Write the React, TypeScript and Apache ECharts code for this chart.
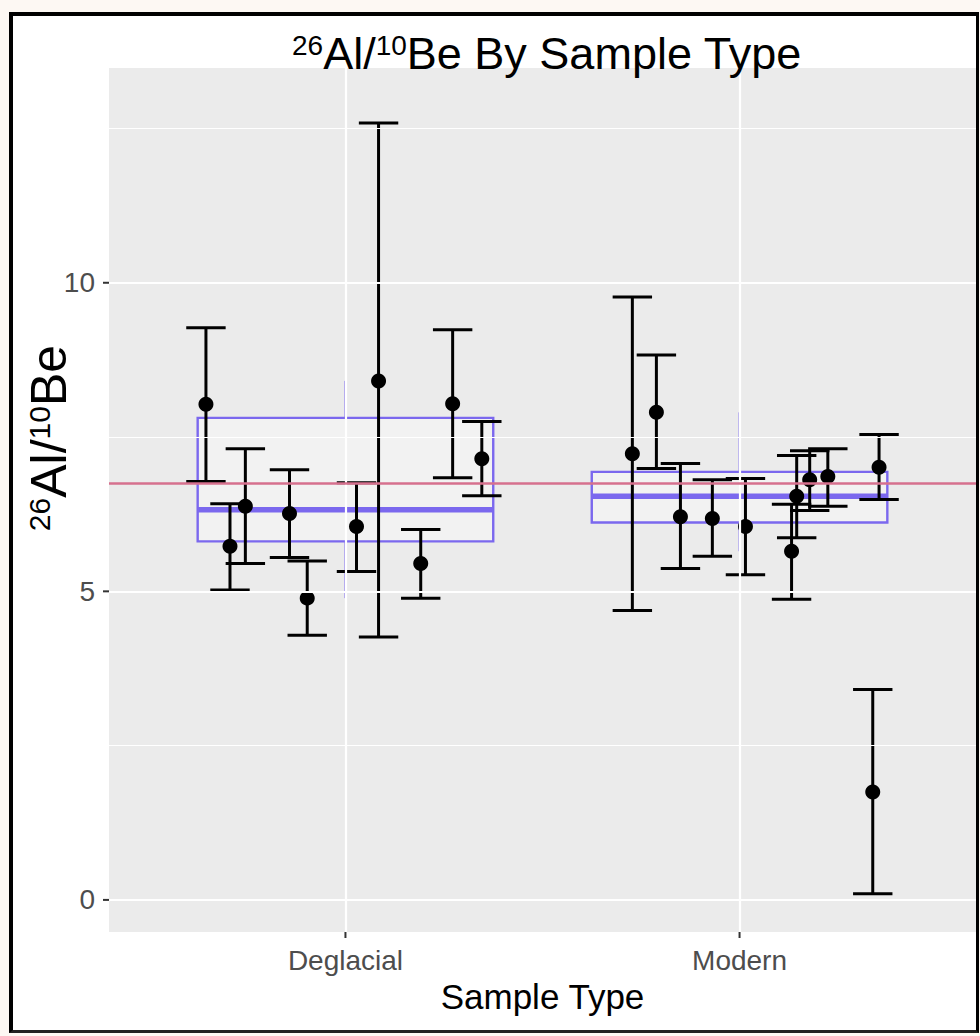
import React, { useEffect, useRef } from "react";
import * as echarts from "echarts";

const categories = ["Deglacial", "Modern"];

const deglacialJitter = [-0.354, -0.293, -0.254, -0.142, -0.097, 0.028, 0.084, 0.191, 0.272, 0.346];
const deglacialRatio = [8.03, 5.73, 6.38, 6.26, 4.89, 6.05, 8.41, 5.45, 8.04, 7.15];
const deglacialLow = [6.78, 5.02, 5.45, 5.55, 4.29, 5.32, 4.26, 4.89, 6.84, 6.55];
const deglacialHigh = [9.27, 6.42, 7.31, 6.97, 5.49, 6.76, 12.59, 6.0, 9.24, 7.75];

const modernJitter = [-0.272, -0.211, -0.15, -0.069, 0.015, 0.132, 0.145, 0.178, 0.224, 0.354, 0.338];
const modernRatio = [7.23, 7.9, 6.21, 6.18, 6.05, 5.65, 6.54, 6.81, 6.86, 7.01, 1.75];
const modernLow = [4.69, 6.99, 5.37, 5.57, 5.27, 4.87, 5.87, 6.31, 6.38, 6.49, 0.1];
const modernHigh = [9.77, 8.83, 7.07, 6.81, 6.83, 6.41, 7.2, 7.28, 7.31, 7.54, 3.41];

const referenceRatio = 6.75;
const yTicks = [0, 5, 10];
const yMinorGrid = [2.5, 7.5, 12.5];
const xMin = -0.6;
const xMax = 1.6;
const yMin = -0.52;
const yMax = 13.48;

const FONT = "'Liberation Sans', Arial, Helvetica, sans-serif";
const BOX = "#7B68EE";
const TICK_LEN = 6;

function quantile(sorted: number[], p: number) {
  const h = (sorted.length - 1) * p;
  const lo = Math.floor(h);
  const hi = Math.ceil(h);
  return sorted[lo] + (h - lo) * (sorted[hi] - sorted[lo]);
}

function boxStats(values: number[]) {
  const s = [...values].sort((a, b) => a - b);
  const q1 = quantile(s, 0.25);
  const med = quantile(s, 0.5);
  const q3 = quantile(s, 0.75);
  const iqr = q3 - q1;
  const lo = Math.min(...s.filter((v) => v >= q1 - 1.5 * iqr));
  const hi = Math.max(...s.filter((v) => v <= q3 + 1.5 * iqr));
  return [lo, q1, med, q3, hi];
}

export default function App() {
  const ref = useRef<HTMLDivElement>(null);

  useEffect(() => {
    if (!ref.current) return;
    const chart = echarts.init(ref.current, undefined, { renderer: "svg" });

    const groups = [
      { jitter: deglacialJitter, ratio: deglacialRatio, low: deglacialLow, high: deglacialHigh },
      { jitter: modernJitter, ratio: modernRatio, low: modernLow, high: modernHigh },
    ];

    const boxData = groups.map((g, i) => [i, ...boxStats(g.ratio)]);
    const pointData: number[][] = [];
    const errData: number[][] = [];
    groups.forEach((g, i) => {
      g.ratio.forEach((v, j) => {
        pointData.push([i + g.jitter[j], v]);
        errData.push([i + g.jitter[j], g.low[j], g.high[j]]);
      });
    });

    const tickLine = { stroke: "#333333", lineWidth: 2 };

    const option: any = {
      animation: false,
      backgroundColor: "transparent",
      title: {
        left: 287,
        top: 26,
        text: "{sup|26}{main|Al/}{sup|10}{main|Be By Sample Type}",
        textStyle: {
          fontWeight: "normal",
          rich: {
            main: { fontSize: 45, lineHeight: 45, fontFamily: FONT, fontWeight: "normal", color: "#000", verticalAlign: "middle" },
            sup: { fontSize: 28, lineHeight: 28, fontFamily: FONT, fontWeight: "normal", color: "#000", verticalAlign: "top" },
          },
        },
      },
      grid: {
        left: 109,
        right: 4,
        top: 68,
        bottom: 104,
        show: true,
        backgroundColor: "#EBEBEB",
        borderWidth: 0,
      },
      xAxis: {
        type: "value",
        min: xMin,
        max: xMax,
        name: "Sample Type",
        nameLocation: "middle",
        nameGap: 46,
        nameTextStyle: { fontSize: 35, fontFamily: FONT, color: "#000" },
        axisLine: { show: false },
        splitLine: { show: false },
        axisTick: { show: false },
        axisLabel: {
          customValues: [0, 1],
          formatter: (v: number) => categories[Math.round(v)] ?? "",
          fontSize: 28,
          fontFamily: FONT,
          color: "#4D4D4D",
          margin: 14,
        },
      },
      yAxis: {
        type: "value",
        min: yMin,
        max: yMax,
        axisLine: { show: false },
        splitLine: { show: false },
        axisTick: { show: false },
        axisLabel: {
          customValues: yTicks,
          fontSize: 28,
          fontFamily: FONT,
          color: "#4D4D4D",
          margin: 14,
        },
      },
      graphic: [
        {
          type: "text",
          x: 49,
          y: 438,
          rotation: Math.PI / 2,
          style: {
            text: "{sup|26}{main|Al/}{sup|10}{main|Be}",
            align: "center",
            verticalAlign: "middle",
            textAlign: "center",
            textVerticalAlign: "middle",
            rich: {
              main: { fontSize: 50, lineHeight: 50, fontFamily: FONT, fill: "#000", verticalAlign: "middle" },
              sup: { fontSize: 30, lineHeight: 30, fontFamily: FONT, fill: "#000", verticalAlign: "top" },
            },
          },
        },
      ],
      series: [
        {
          type: "line",
          data: [],
          z: 1,
          silent: true,
          markLine: {
            silent: true,
            symbol: ["none", "none"],
            label: { show: false },
            emphasis: { disabled: true },
            lineStyle: { color: "#FFFFFF", width: 1.1, type: "solid" },
            data: yMinorGrid.map((v) => ({ yAxis: v })),
          },
        },
        {
          type: "line",
          data: [],
          z: 1,
          silent: true,
          markLine: {
            silent: true,
            symbol: ["none", "none"],
            label: { show: false },
            emphasis: { disabled: true },
            lineStyle: { color: "#FFFFFF", width: 2.2, type: "solid" },
            data: [...yTicks.map((v) => ({ yAxis: v })), ...categories.map((_, i) => ({ xAxis: i }))],
          },
        },
        {
          // y-axis tick marks (outside the panel)
          type: "custom",
          z: 1,
          silent: true,
          clip: false,
          data: yTicks.map((v) => [xMin, v]),
          renderItem: (params: any, api: any) => {
            const [x0, y] = api.coord([xMin, api.value(1)]);
            return { type: "line", shape: { x1: x0 - TICK_LEN, y1: y, x2: x0, y2: y }, style: tickLine };
          },
        },
        {
          // x-axis tick marks (outside the panel)
          type: "custom",
          z: 1,
          silent: true,
          clip: false,
          data: categories.map((_, i) => [i, yMin]),
          renderItem: (params: any, api: any) => {
            const [x, y0] = api.coord([api.value(0), yMin]);
            return { type: "line", shape: { x1: x, y1: y0, x2: x, y2: y0 + TICK_LEN }, style: tickLine };
          },
        },
        {
          type: "custom",
          z: 2,
          silent: true,
          data: boxData,
          encode: { x: 0, y: [1, 2, 3, 4, 5] },
          renderItem: (params: any, api: any) => {
            const x = api.value(0);
            const w = api.size([0.75, 0])[0];
            const cx = api.coord([x, api.value(1)])[0];
            const yLo = api.coord([x, api.value(1)])[1];
            const yQ1 = api.coord([x, api.value(2)])[1];
            const yMed = api.coord([x, api.value(3)])[1];
            const yQ3 = api.coord([x, api.value(4)])[1];
            const yHi = api.coord([x, api.value(5)])[1];
            return {
              type: "group",
              children: [
                { type: "line", shape: { x1: cx, y1: yQ3, x2: cx, y2: yHi }, style: { stroke: BOX, lineWidth: 2 } },
                { type: "line", shape: { x1: cx, y1: yQ1, x2: cx, y2: yLo }, style: { stroke: BOX, lineWidth: 2 } },
                {
                  type: "rect",
                  shape: { x: cx - w / 2, y: yQ3, width: w, height: yQ1 - yQ3 },
                  style: { fill: "rgba(255,255,255,0.35)", stroke: BOX, lineWidth: 2.4 },
                },
                {
                  type: "line",
                  shape: { x1: cx - w / 2, y1: yMed, x2: cx + w / 2, y2: yMed },
                  style: { stroke: BOX, lineWidth: 5.5 },
                },
              ],
            };
          },
        },
        {
          type: "custom",
          z: 3,
          silent: true,
          data: errData,
          encode: { x: 0, y: [1, 2] },
          renderItem: (params: any, api: any) => {
            const x = api.value(0);
            const cw = api.size([0.1, 0])[0];
            const [cx, yLow] = api.coord([x, api.value(1)]);
            const yHigh = api.coord([x, api.value(2)])[1];
            const st = { stroke: "#000", lineWidth: 3 };
            return {
              type: "group",
              children: [
                { type: "line", shape: { x1: cx, y1: yLow, x2: cx, y2: yHigh }, style: st },
                { type: "line", shape: { x1: cx - cw / 2, y1: yLow, x2: cx + cw / 2, y2: yLow }, style: st },
                { type: "line", shape: { x1: cx - cw / 2, y1: yHigh, x2: cx + cw / 2, y2: yHigh }, style: st },
              ],
            };
          },
        },
        {
          type: "scatter",
          z: 4,
          silent: true,
          data: pointData,
          symbol: "circle",
          symbolSize: 15,
          itemStyle: { color: "#000", opacity: 1 },
        },
        {
          type: "line",
          data: [],
          z: 5,
          silent: true,
          markLine: {
            silent: true,
            symbol: ["none", "none"],
            label: { show: false },
            emphasis: { disabled: true },
            lineStyle: { color: "#D6708E", width: 2.5, type: "solid" },
            data: [{ yAxis: referenceRatio }],
          },
        },
      ],
    };

    chart.setOption(option);
    return () => chart.dispose();
  }, []);

  return (
    <div style={{ position: "fixed", left: 0, top: 0, width: 980, height: 1036, background: "#FDF8F3", overflow: "hidden" }}>
      <div
        style={{
          position: "absolute",
          left: 9,
          top: 12,
          width: 970,
          height: 1021,
          boxSizing: "border-box",
          borderLeft: "4px solid #000",
          borderTop: "4px solid #000",
          borderRight: "3px solid #000",
          borderBottom: "3px solid #222",
          background: "#FFFFFF",
        }}
      />
      <div ref={ref} style={{ position: "absolute", left: 0, top: 0, width: 980, height: 1036 }} />
    </div>
  );
}
